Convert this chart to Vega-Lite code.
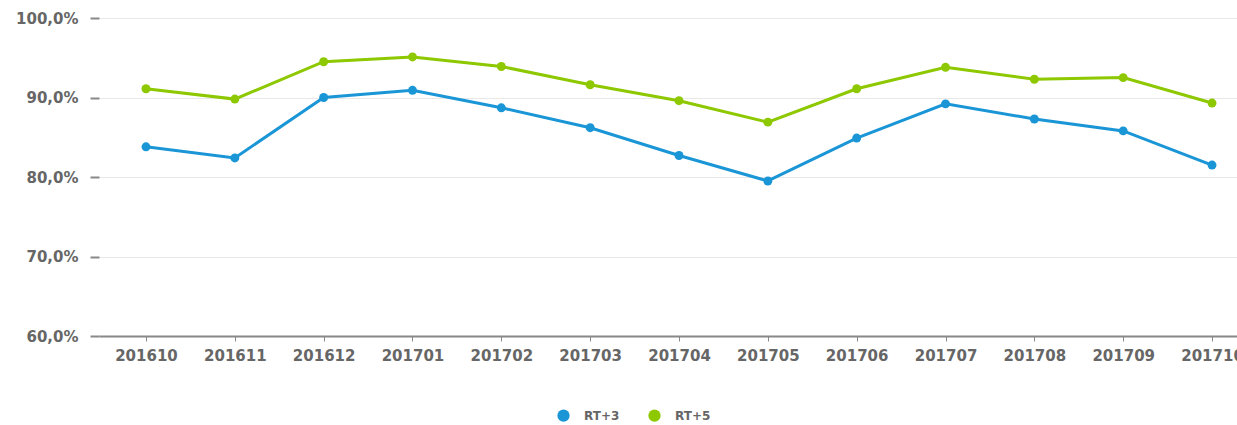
{
  "$schema": "https://vega.github.io/schema/vega-lite/v6.json",
  "width": 1138,
  "height": 318,
  "autosize": "none",
  "padding": {"left": 99, "top": 18, "right": 0, "bottom": 89},
  "background": "white",
  "data": {
    "values": [
      {"month": "201610", "series": "RT+3", "value": 83.8},
      {"month": "201611", "series": "RT+3", "value": 82.4},
      {"month": "201612", "series": "RT+3", "value": 90.0},
      {"month": "201701", "series": "RT+3", "value": 90.9},
      {"month": "201702", "series": "RT+3", "value": 88.7},
      {"month": "201703", "series": "RT+3", "value": 86.2},
      {"month": "201704", "series": "RT+3", "value": 82.7},
      {"month": "201705", "series": "RT+3", "value": 79.5},
      {"month": "201706", "series": "RT+3", "value": 84.9},
      {"month": "201707", "series": "RT+3", "value": 89.2},
      {"month": "201708", "series": "RT+3", "value": 87.3},
      {"month": "201709", "series": "RT+3", "value": 85.8},
      {"month": "201710", "series": "RT+3", "value": 81.5},
      {"month": "201610", "series": "RT+5", "value": 91.1},
      {"month": "201611", "series": "RT+5", "value": 89.8},
      {"month": "201612", "series": "RT+5", "value": 94.5},
      {"month": "201701", "series": "RT+5", "value": 95.1},
      {"month": "201702", "series": "RT+5", "value": 93.9},
      {"month": "201703", "series": "RT+5", "value": 91.6},
      {"month": "201704", "series": "RT+5", "value": 89.6},
      {"month": "201705", "series": "RT+5", "value": 86.9},
      {"month": "201706", "series": "RT+5", "value": 91.1},
      {"month": "201707", "series": "RT+5", "value": 93.8},
      {"month": "201708", "series": "RT+5", "value": 92.3},
      {"month": "201709", "series": "RT+5", "value": 92.5},
      {"month": "201710", "series": "RT+5", "value": 89.3}
    ]
  },
  "mark": {
    "type": "line",
    "strokeWidth": 3,
    "point": {"filled": true, "size": 80, "opacity": 1}
  },
  "encoding": {
    "x": {
      "field": "month",
      "type": "ordinal",
      "scale": {"type": "point", "padding": 0.405, "align": 0.653},
      "axis": {
        "title": null,
        "labelAngle": 0,
        "labelFont": "DejaVu Sans",
        "labelFontWeight": "bold",
        "labelFontSize": 15,
        "labelColor": "#666666",
        "labelPadding": 7,
        "domainColor": "#888888",
        "domainWidth": 2,
        "tickColor": "#888888",
        "tickSize": 5,
        "tickWidth": 1,
        "grid": false
      }
    },
    "y": {
      "field": "value",
      "type": "quantitative",
      "scale": {"domain": [60, 100], "nice": false, "zero": false},
      "axis": {
        "title": null,
        "values": [60, 70, 80, 90, 100],
        "labelExpr": "replace(format(datum.value, '.1f'), '.', ',') + '%'",
        "labelFont": "DejaVu Sans",
        "labelFontWeight": "bold",
        "labelFontSize": 15,
        "labelColor": "#666666",
        "labelPadding": 12,
        "domain": false,
        "tickColor": "#888888",
        "tickSize": 9,
        "tickWidth": 2,
        "grid": true,
        "gridColor": "#e8e8e8",
        "gridWidth": 1
      }
    },
    "color": {
      "field": "series",
      "type": "nominal",
      "scale": {"domain": ["RT+3", "RT+5"], "range": ["#1a96d6", "#8dc800"]},
      "legend": {
        "title": null,
        "orient": "none",
        "direction": "horizontal",
        "legendX": 458,
        "legendY": 391,
        "symbolType": "circle",
        "symbolSize": 150,
        "symbolStrokeWidth": 0,
        "labelFont": "DejaVu Sans",
        "labelFontSize": 12,
        "labelFontWeight": "bold",
        "labelColor": "#666666",
        "columnPadding": 28,
        "labelOffset": 14
      }
    }
  },
  "config": {
    "view": {"stroke": null}
  }
}
